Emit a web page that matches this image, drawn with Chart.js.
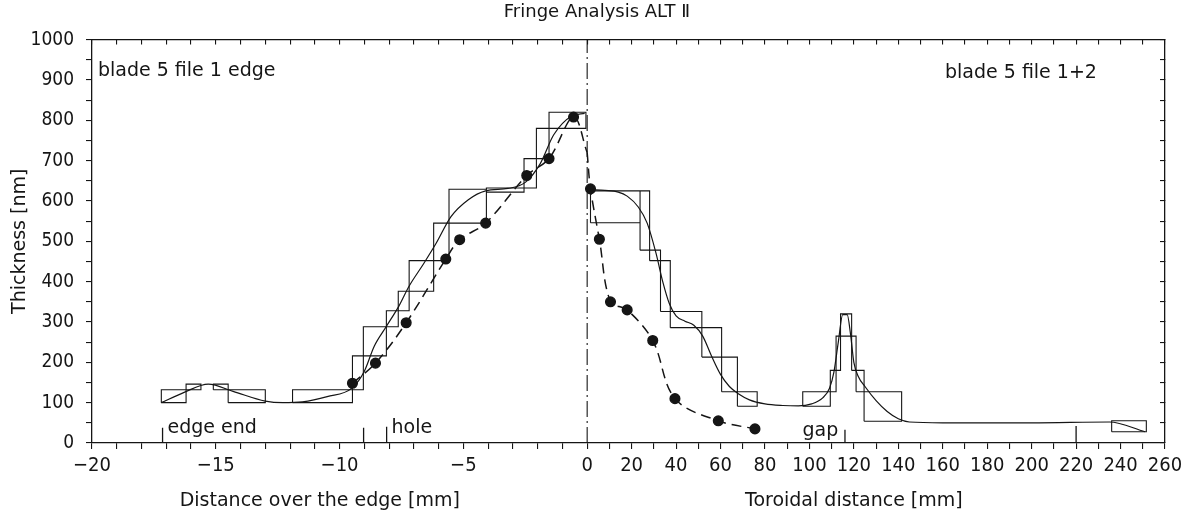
<!DOCTYPE html>
<html>
<head>
<meta charset="utf-8">
<title>Fringe Analysis ALT II</title>
<script src="https://cdn.jsdelivr.net/npm/chart.js@4.4.1/dist/chart.umd.min.js"></script>
<style>
  html, body { margin: 0; padding: 0; background: #fff; }
  canvas { display: block; }
</style>
</head>
<body>
<canvas id="fringe" width="1194" height="512"></canvas>
<script>
// Fringe Analysis ALT II - film thickness over the blade edge (left, mm)
// and along the toroidal direction (right, mm), sharing one thickness axis.

// ---- left half: distance over the edge [mm] ----
// fringe boxes (min / max thickness per fringe interval)
const leftBinStart = [-17.2, -16.2, -15.1, -14.5, -11.9, -9.48, -9.04, -8.11, -7.63, -7.19, -6.2, -5.58, -4.07, -2.55, -2.05, -1.54];
const leftBinEnd   = [-16.2, -15.6, -14.5, -13.0, -9.48, -9.04, -8.11, -7.63, -7.19, -6.2, -5.58, -4.07, -2.55, -2.05, -1.54, -0.05];
const leftBinLow   = [100, 132, 132, 100, 100, 132, 216, 288, 328, 376, 452, 545, 622, 632, 705, 780];
const leftBinHigh  = [132, 146, 146, 132, 132, 216, 288, 328, 376, 452, 545, 629, 632, 705, 780, 820];

// smoothed fit
const leftFitX = [-17.2, -16.3, -15.3, -14.3, -13.0, -12.3, -11.5, -10.5, -9.5, -9.0, -8.6, -8.1, -7.6, -7.2, -6.6, -6.1, -5.5, -4.8, -4.1, -3.2, -2.5, -1.9, -1.35, -0.6, -0.1];
const leftFitY = [100, 125, 146, 128, 104, 100, 102, 115, 136, 178, 240, 290, 340, 388, 445, 495, 561, 603, 625, 631, 646, 692, 764, 811, 817];

// measured points (dashed curve)
const leftDotX = [-9.48, -8.55, -7.31, -5.71, -5.15, -4.1, -2.44, -1.54, -0.55];
const leftDotY = [148, 198, 298, 456, 504, 545, 663, 705, 808];

// ---- right half: toroidal distance [mm] ----
const rightBinStart = [1.5, 23.8, 28.1, 33, 37.4, 51.6, 60.5, 67.6, 97, 109.4, 112, 114, 119, 121, 124.6, 236];
const rightBinEnd   = [23.8, 28.1, 33, 37.4, 51.6, 60.5, 67.6, 76.5, 109.4, 112, 114, 119, 121, 124.6, 141.5, 251.6];
const rightBinLow   = [546, 478, 452, 326, 286, 213, 127, 91, 91, 127, 180, 265, 180, 127, 54, 28];
const rightBinHigh  = [625, 625, 478, 452, 326, 286, 213, 127, 127, 180, 265, 320, 265, 180, 127, 55];

const rightFitX = [1.5, 8, 14, 18, 23, 27, 31, 34, 37, 40, 44, 48, 52, 56, 60, 64, 68, 73, 80, 88, 95, 101, 106, 109, 111, 113, 115, 117, 118.5, 120, 122, 125, 130, 135, 140, 145, 160, 200, 235, 251];
const rightFitY = [628, 626, 622, 612, 585, 545, 470, 400, 345, 315, 302, 292, 265, 215, 170, 140, 122, 107, 97, 93, 92, 97, 112, 135, 175, 250, 318, 318, 270, 200, 165, 140, 105, 78, 60, 52, 50, 50, 52, 28];

const rightDotX = [1.5, 5.5, 10.5, 18, 29.5, 39.5, 59, 75.5];
const rightDotY = [630, 505, 350, 330, 254, 110, 55, 35];

// dashed curve where it crosses the edge line (x = 0)
const crossY = 720;

// marker strokes on the base line: edge end, hole, gap, 220 mm
const leftMarkX = [-17.15, -9.03, -8.1];
const leftMarkTop = [38, 38, 40];
const rightMarkX = [116, 220];
const rightMarkTop = [33, 42];

// axis ticks
const leftTickMm = [-20, -19, -18, -17, -16, -15, -14, -13, -12, -11, -10, -9, -8, -7, -6, -5, -4, -3, -2, -1];
const rightTickMm = [0, 10, 20, 30, 40, 50, 60, 70, 80, 90, 100, 110, 120, 130, 140, 150, 160, 170, 180, 190, 200, 210, 220, 230, 240, 250, 260];
const yTickVals = [0, 50, 100, 150, 200, 250, 300, 350, 400, 450, 500, 550, 600, 650, 700, 750, 800, 850, 900, 950, 1000];

// left mm are drawn about 11x wider than toroidal mm
const K = 11.14;
const L = mm => mm * K;

const INK = '#151515';
const NUM_FONT = "'DejaVu Sans Condensed', 'DejaVu Sans', sans-serif";
const TXT_FONT = "'DejaVu Sans', sans-serif";

function boxPath(starts, ends, lows, highs, conv) {
  const pts = [];
  starts.forEach((s, i) => {
    const a = conv(s), b = conv(ends[i]);
    pts.push({ x: a, y: lows[i] }, { x: a, y: highs[i] }, { x: b, y: highs[i] },
             { x: b, y: lows[i] }, { x: a, y: lows[i] }, { x: a, y: null });
  });
  return pts;
}

function markPath(xs, tops, conv) {
  const pts = [];
  xs.forEach((v, i) => {
    pts.push({ x: conv(v), y: -4 }, { x: conv(v), y: tops[i] }, { x: conv(v), y: null });
  });
  return pts;
}

const same = v => v;
const xTicks = leftTickMm.map(L).concat(rightTickMm);

function xLabel(v) {
  if (v < -0.01) {
    const mm = Math.round(v / K);
    return mm % 5 === 0 ? '\u2212' + Math.abs(mm) : '';
  }
  const r = Math.round(v);
  return r % 20 === 0 ? String(r) : '';
}

const thin = { pointRadius: 0, borderColor: INK, borderWidth: 1.1, tension: 0, fill: false, spanGaps: false };

const datasets = [
  // edge line
  { ...thin, data: [{ x: 0, y: 0 }, { x: 0, y: 1000 }], borderDash: [16, 4, 2, 4] },
  // fringe boxes
  { ...thin, data: boxPath(leftBinStart, leftBinEnd, leftBinLow, leftBinHigh, L) },
  { ...thin, data: boxPath(rightBinStart, rightBinEnd, rightBinLow, rightBinHigh, same) },
  // fits
  { ...thin, borderWidth: 1.2, cubicInterpolationMode: 'monotone',
    data: leftFitX.map((v, i) => ({ x: L(v), y: leftFitY[i] })) },
  { ...thin, borderWidth: 1.2, cubicInterpolationMode: 'monotone',
    data: rightFitX.map((v, i) => ({ x: v, y: rightFitY[i] })) },
  // measured points, dashed
  { ...thin, borderWidth: 1.5, borderDash: [10, 6], tension: 0.35,
    pointRadius: ctx => (ctx.dataIndex < leftDotX.length ? 4.8 : 0),
    pointBackgroundColor: INK, pointBorderColor: INK,
    data: leftDotX.map((v, i) => ({ x: L(v), y: leftDotY[i] })).concat([{ x: 0, y: crossY }]) },
  { ...thin, borderWidth: 1.5, borderDash: [10, 6], tension: 0.35,
    pointRadius: ctx => (ctx.dataIndex === 0 ? 0 : 4.8),
    pointBackgroundColor: INK, pointBorderColor: INK,
    data: [{ x: 0, y: crossY }].concat(rightDotX.map((v, i) => ({ x: v, y: rightDotY[i] }))) },
  // markers
  { ...thin, borderWidth: 1.3, data: markPath(leftMarkX, leftMarkTop, L) },
  { ...thin, borderWidth: 1.3, data: markPath(rightMarkX, rightMarkTop, same) }
];

// free text on the plot
const notes = {
  id: 'notes',
  afterDraw(chart) {
    const { ctx, scales: { x, y } } = chart;
    ctx.save();
    ctx.fillStyle = INK;
    ctx.textBaseline = 'middle';
    ctx.font = '19px ' + TXT_FONT;
    ctx.textAlign = 'center';
    ctx.fillText('Distance over the edge [mm]', x.getPixelForValue(L(-10.8)), 501);
    ctx.fillText('Toroidal distance [mm]', x.getPixelForValue(120), 501);
    ctx.textAlign = 'left';
    ctx.fillText('blade 5 file 1 edge', x.getPixelForValue(L(-19.76)), y.getPixelForValue(923));
    ctx.fillText('blade 5 file 1+2', x.getPixelForValue(161), y.getPixelForValue(916));
    ctx.fillText('edge end', x.getPixelForValue(L(-16.95)), y.getPixelForValue(37));
    ctx.fillText('hole', x.getPixelForValue(L(-7.9)), y.getPixelForValue(37));
    ctx.textAlign = 'right';
    ctx.fillText('gap', x.getPixelForValue(113), y.getPixelForValue(30));
    ctx.restore();
  }
};

const tickFont = { family: NUM_FONT, size: 20 };
const border = { color: INK, width: 1.3 };

new Chart(document.getElementById('fringe'), {
  type: 'line',
  data: { datasets },
  plugins: [notes],
  options: {
    responsive: false,
    animation: false,
    devicePixelRatio: 1,
    layout: { padding: 0 },
    plugins: {
      legend: { display: false },
      tooltip: { enabled: false },
      title: {
        display: true,
        text: 'Fringe Analysis ALT \u2161',
        color: INK,
        font: { family: TXT_FONT, size: 18, weight: 'normal' },
        padding: { top: 2, bottom: 4 }
      }
    },
    scales: {
      x: {
        type: 'linear', position: 'bottom', min: L(-20), max: 260,
        afterBuildTicks: s => { s.ticks = xTicks.map(v => ({ value: v })); },
        afterFit: s => { s.height = 69; },
        ticks: { callback: xLabel, autoSkip: false, maxRotation: 0, color: INK, font: tickFont, padding: 5 },
        grid: { drawOnChartArea: false, tickLength: 6, color: INK, lineWidth: 1.1 },
        border
      },
      x2: {
        type: 'linear', position: 'top', min: L(-20), max: 260,
        afterBuildTicks: s => { s.ticks = xTicks.map(v => ({ value: v })); },
        afterFit: s => { s.height = 12; },
        ticks: { display: false },
        grid: { drawOnChartArea: false, tickLength: -5, color: INK, lineWidth: 1.1 },
        border
      },
      y: {
        type: 'linear', position: 'left', min: 0, max: 1000,
        afterBuildTicks: s => { s.ticks = yTickVals.map(v => ({ value: v })); },
        afterFit: s => { s.width = 92; },
        ticks: { callback: v => (v % 100 === 0 ? String(v) : ''), autoSkip: false, color: INK, font: { family: NUM_FONT, size: 19 }, padding: 12 },
        grid: { drawOnChartArea: false, tickLength: 6, color: INK, lineWidth: 1.1 },
        title: { display: true, text: 'Thickness [nm]', color: INK, font: { family: TXT_FONT, size: 19 }, padding: { top: 9, bottom: 0 } },
        border
      },
      y2: {
        type: 'linear', position: 'right', min: 0, max: 1000,
        afterBuildTicks: s => { s.ticks = yTickVals.map(v => ({ value: v })); },
        afterFit: s => { s.width = 29; },
        ticks: { display: false },
        grid: { drawOnChartArea: false, tickLength: -5, color: INK, lineWidth: 1.1 },
        border
      }
    }
  }
});
</script>
</body>
</html>
